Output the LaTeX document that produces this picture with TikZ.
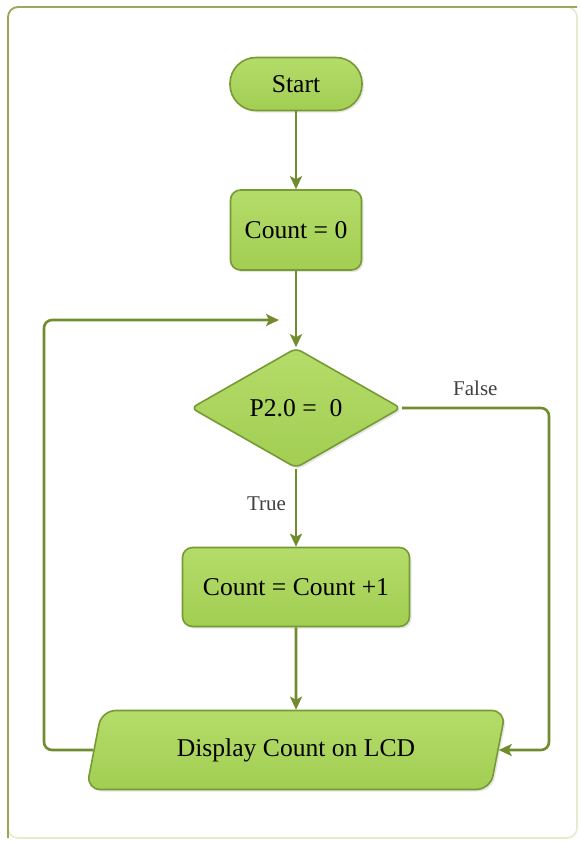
\documentclass[tikz,border=0pt]{standalone}
\usepackage{fontspec}
\setmainfont{Liberation Serif}
\usetikzlibrary{shapes.geometric,arrows.meta,shadows}
\definecolor{linegreen}{RGB}{112,140,46}
\definecolor{edgegreen}{RGB}{118,154,52}
\definecolor{boxgreen}{RGB}{162,206,82}
\definecolor{boxlight}{RGB}{180,220,106}
\definecolor{framecol}{RGB}{160,166,88}
\definecolor{framefaint}{RGB}{230,234,208}
\begin{document}
\begin{tikzpicture}
      [x = .5pt, y = -.5pt,
       block/.style = {draw = edgegreen, line width = .8pt, top color = boxlight,
         bottom color = boxgreen, text = black,
         font = \fontsize{12.8}{15}\selectfont, inner sep = 0pt,
         drop shadow = {opacity = .2, shadow xshift = 1pt, shadow yshift = -1pt}},
       flow/.style = {draw = linegreen, line width = 1.3pt, rounded corners = 4pt,
         -{Stealth[length = 6.5pt, width = 6pt, inset = 1.5pt]}},
       tag/.style = {text = black!75, font = \fontsize{10.5}{12}\selectfont}]
      \useasboundingbox (0,0) rectangle (581,843);
      \draw[framefaint, line width = .8pt, rounded corners = 5pt] (8,7) rectangle (577,838);
      \draw[framecol, line width = .9pt, rounded corners = 5pt] (8,838) -- (8,7) -- (577,7);
      \node[block, rounded corners = 13pt, minimum width = 66pt, minimum height = 26.5pt]
        (start) at (296,84) {Start};
      \node[block, rounded corners = 5pt, minimum width = 65.5pt, minimum height = 40pt]
        (init) at (296,230) {Count = 0};
      \node[block, diamond, rounded corners = 3pt, minimum width = 105pt, minimum height = 60pt]
        (test) at (296,408) {P2.0 =~ 0};
      \node[block, rounded corners = 5pt, minimum width = 113.5pt, minimum height = 39.5pt]
        (inc) at (296,587) {Count = Count +1};
      \node[block, trapezium, trapezium left angle = 68, trapezium right angle = 112,
        trapezium stretches = true, rounded corners = 7pt,
        minimum width = 210pt, minimum height = 39.5pt]
        (disp) at (296,750) {Display Count on LCD};
      \coordinate (back) at (279,320);
      \coordinate (left) at (44,750);
      \coordinate (right) at (549,408);
      \foreach \from/\to in {start/init, init/test, inc/disp}
        \draw[flow] (\from) -- (\to);
      \draw[flow] (test) -- node[tag, pos = .45, left = 1pt] {True} (inc);
      \draw[flow] (disp.west) -- (left) |- (back);
      \draw[flow] (test.east) -- node[tag, pos = .5, above = 2pt] {False} (right)
        |- (disp.east);
\end{tikzpicture}
\end{document}
